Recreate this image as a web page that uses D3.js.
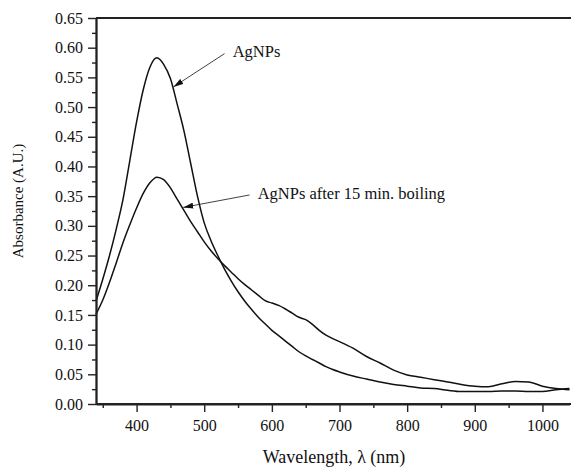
<!DOCTYPE html>
<html>
<head>
<meta charset="utf-8">
<script src="https://cdn.jsdelivr.net/npm/d3@7"></script>
<style>
  body { margin: 0; background: #fff; }
  text { font-family: "Liberation Serif", "Times New Roman", serif; fill: #111; }
</style>
</head>
<body>
<div id="chart"></div>
<script>
const WIDTH = 571, HEIGHT = 467;
const MARGIN = { left: 96, top: 18, right: 1, bottom: 63 };

// wavelength (nm)
const wavelengths = [
    340, 350, 360, 370, 380, 390, 400, 410, 420, 430,
    440, 450, 460, 470, 480, 490, 500, 510, 520, 530,
    540, 550, 560, 570, 580, 590, 600, 610, 620, 630,
    640, 650, 660, 670, 680, 690, 700, 720, 740, 760,
    780, 800, 820, 840, 860, 880, 900, 920, 940, 960,
    980, 1000, 1020, 1040
];

// absorbance, fresh AgNPs
const agnps = [
    0.173, 0.210, 0.250, 0.295, 0.345, 0.410, 0.475, 0.530, 0.568, 0.583,
    0.572, 0.548, 0.505, 0.460, 0.405, 0.350, 0.305, 0.275, 0.250, 0.227,
    0.207, 0.189, 0.173, 0.159, 0.146, 0.135, 0.124, 0.115, 0.106, 0.097,
    0.088, 0.081, 0.075, 0.069, 0.063, 0.058, 0.054, 0.047, 0.042, 0.037,
    0.033, 0.030, 0.027, 0.026, 0.023, 0.021, 0.021, 0.021, 0.022, 0.022,
    0.021, 0.021, 0.024, 0.026
];

// absorbance, AgNPs after 15 min. boiling
const boiled = [
    0.151, 0.175, 0.205, 0.238, 0.272, 0.302, 0.330, 0.355, 0.373, 0.382,
    0.378, 0.364, 0.345, 0.326, 0.307, 0.290, 0.273, 0.258, 0.245, 0.233,
    0.222, 0.211, 0.201, 0.192, 0.183, 0.174, 0.170, 0.166, 0.160, 0.153,
    0.146, 0.142, 0.134, 0.124, 0.116, 0.110, 0.105, 0.094, 0.080, 0.069,
    0.057, 0.049, 0.045, 0.041, 0.037, 0.033, 0.030, 0.029, 0.034, 0.038,
    0.037, 0.030, 0.026, 0.024
];

const xTicks = [400, 500, 600, 700, 800, 900, 1000];
const xMinorTicks = [350, 450, 550, 650, 750, 850, 950, 1050];
const yTicks = d3.range(0, 14).map(i => +(i * 0.05).toFixed(2));
const yMinorTicks = d3.range(0, 13).map(i => +(i * 0.05 + 0.025).toFixed(3));

// annotation arrows: tip on the curve, tail near the label (data units)
const notes = [
    { label: 'AgNPs', tip: [454.5, 0.534], tail: [530, 0.590], text: [542, 0.584] },
    { label: 'AgNPs after 15 min. boiling', tip: [469, 0.331], tail: [567, 0.352], text: [579, 0.346] }
];

const svg = d3.select('#chart').append('svg')
    .attr('width', WIDTH)
    .attr('height', HEIGHT);

const innerW = WIDTH - MARGIN.left - MARGIN.right;
const innerH = HEIGHT - MARGIN.top - MARGIN.bottom;

const x = d3.scaleLinear().domain([340, 1040]).range([0, innerW - 0.5]);
const y = d3.scaleLinear().domain([0, 0.65]).range([innerH, 0]);

const g = svg.append('g')
    .attr('transform', `translate(${MARGIN.left}, ${MARGIN.top})`);

// arrow head
svg.append('defs').append('marker')
    .attr('id', 'head')
    .attr('viewBox', '0 0 10 6')
    .attr('refX', 10).attr('refY', 3)
    .attr('markerWidth', 10).attr('markerHeight', 6)
    .attr('markerUnits', 'userSpaceOnUse')
    .attr('orient', 'auto')
    .append('path')
    .attr('d', 'M0,0 L10,3 L0,6 Z')
    .attr('fill', '#111');

// frame top
g.append('line')
    .attr('x1', 0).attr('x2', WIDTH)
    .attr('y1', 0).attr('y2', 0)
    .attr('stroke', '#222').attr('stroke-width', 1.8);

// curves
const line = d3.line()
    .x(d => x(d[0]))
    .y(d => y(d[1]))
    .curve(d3.curveMonotoneX);

[agnps, boiled].forEach(series => {
    g.append('path')
        .datum(wavelengths.map((w, i) => [w, series[i]]))
        .attr('fill', 'none')
        .attr('stroke', '#111')
        .attr('stroke-width', 1.5)
        .attr('d', line);
});

// x axis
g.append('g')
    .attr('class', 'x-minor')
    .attr('transform', `translate(0, ${innerH})`)
    .call(d3.axisBottom(x).tickValues(xMinorTicks).tickSize(4).tickSizeOuter(0).tickFormat(''));

g.append('g')
    .attr('class', 'x-axis')
    .attr('transform', `translate(0, ${innerH})`)
    .call(d3.axisBottom(x).tickValues(xTicks).tickSize(8).tickSizeOuter(0).tickPadding(7.3).tickFormat(d3.format('d')))
    .call(a => a.select('.domain').attr('d', `M0,0H${WIDTH}`));

// y axis
g.append('g')
    .attr('class', 'y-minor')
    .call(d3.axisLeft(y).tickValues(yMinorTicks).tickSize(4).tickSizeOuter(0).tickFormat(''));

g.append('g')
    .attr('class', 'y-axis')
    .call(d3.axisLeft(y).tickValues(yTicks).tickSize(8).tickSizeOuter(0).tickPadding(5).tickFormat(d3.format('.2f')));

svg.selectAll('.x-axis text, .y-axis text')
    .attr('font-family', null)
    .style('font-size', '16px');
svg.selectAll('.domain').attr('stroke', '#222').attr('stroke-width', 1.8);
svg.selectAll('.tick line').attr('stroke', '#222').attr('stroke-width', 1.4);

// axis titles
g.append('text')
    .attr('text-anchor', 'middle')
    .attr('x', 238)
    .attr('y', innerH + 59)
    .style('font-size', '18px')
    .text('Wavelength, λ (nm)');

g.append('text')
    .attr('text-anchor', 'middle')
    .attr('transform', `translate(${-73}, ${183}) rotate(-90)`)
    .style('font-size', '15px')
    .text('Absorbance (A.U.)');

// annotations
notes.forEach(n => {
    g.append('line')
        .attr('x1', x(n.tail[0])).attr('y1', y(n.tail[1]))
        .attr('x2', x(n.tip[0])).attr('y2', y(n.tip[1]))
        .attr('stroke', '#111')
        .attr('stroke-width', 0.8)
        .attr('marker-end', 'url(#head)');
    g.append('text')
        .attr('x', x(n.text[0]))
        .attr('y', y(n.text[1]))
        .style('font-size', '16.5px')
        .text(n.label);
});
</script>
</body>
</html>
